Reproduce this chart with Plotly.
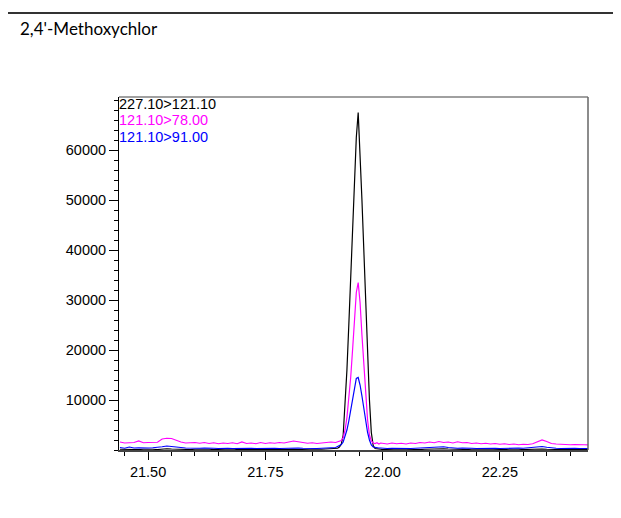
import numpy as np
import plotly.graph_objects as go

# retention time grid (min): baseline before peak, peak region, baseline after
t_pre = np.round(21.44 + 0.01 * np.arange(46), 3)
t_peak = np.round(21.900 + 0.004 * np.arange(25), 3)
t_post = np.round(22.00 + 0.01 * np.arange(45), 3)

# 227.10>121.10 (black)
black_pre = [150, 100, 200, 150, 100, 150, 200, 150, 100, 200, 250, 200, 150, 100, 150, 100,
             150, 200, 100, 150, 100, 150, 100, 150, 200, 100, 150, 100, 150, 100, 150, 200,
             100, 150, 100, 150, 200, 150, 100, 150, 100, 150, 200, 150, 200, 250]
black_peak = [250, 350, 600, 1200, 3000, 8500, 16000, 25000, 34000, 43500, 53000, 62500, 67500,
              60000, 50000, 40000, 29500, 19500, 10000, 3500, 900, 300, 200, 150, 150]
black_post = [100, 150, 100, 150, 200, 150, 100, 150, 100, 150, 200, 250, 300, 250, 200, 150,
              100, 150, 100, 150, 100, 150, 200, 150, 100, 150, 100, 150, 200, 150, 100, 150,
              200, 250, 200, 150, 100, 150, 100, 150, 100, 150, 100, 150, 100]

# 121.10>78.00 (magenta)
mag_pre = [1600, 1400, 1450, 1500, 1800, 1450, 1500, 1450, 1550, 2200, 2350, 2300, 1900, 1600,
           1400, 1450, 1500, 1350, 1500, 1300, 1450, 1250, 1400, 1300, 1450, 1250, 1600, 1300,
           1400, 1250, 1500, 1300, 1450, 1350, 1500, 1400, 1650, 1800, 1650, 1500, 1350, 1450,
           1300, 1400, 1500, 1600]
mag_peak = [1500, 1600, 1700, 1900, 2500, 4000, 6500, 10000, 14500, 20000, 26000, 31500, 33500,
            29500, 23000, 16500, 10500, 6000, 3000, 1800, 1400, 1300, 1450, 1200, 1400]
mag_post = [1300, 1200, 1400, 1250, 1350, 1200, 1400, 1300, 1500, 1400, 1600, 1450, 1700, 1500,
            1600, 1400, 1650, 1450, 1500, 1300, 1400, 1250, 1350, 1200, 1300, 1150, 1250, 1100,
            1200, 1050, 1150, 1100, 1250, 1600, 2000, 1700, 1300, 1200, 1100, 1150, 1050, 1100,
            1000, 1050, 1000]

# 121.10>91.00 (blue)
blue_pre = [500, 350, 600, 400, 450, 350, 400, 450, 500, 650, 800, 750, 600, 500, 400, 350,
            400, 350, 400, 300, 350, 300, 400, 350, 300, 350, 400, 300, 350, 300, 350, 300,
            400, 350, 300, 350, 400, 450, 400, 350, 300, 350, 300, 350, 400, 500]
blue_peak = [500, 700, 900, 1100, 1600, 2600, 4000, 5800, 7800, 10000, 12500, 14300, 14500,
             13000, 10800, 8000, 5500, 3500, 2000, 1000, 600, 500, 450, 400, 400]
blue_post = [350, 300, 350, 300, 400, 350, 300, 350, 400, 450, 500, 600, 700, 650, 500, 400,
             350, 400, 300, 350, 300, 350, 300, 400, 350, 300, 350, 300, 350, 400, 350, 450,
             500, 650, 700, 550, 400, 350, 300, 350, 300, 350, 300, 350, 300]

labels = ["227.10>121.10", "121.10>78.00", "121.10>91.00"]
colors = ["#000000", "#ff00ff", "#0000ff"]
x_ticks = [21.50, 21.75, 22.00, 22.25]
y_ticks = [10000, 20000, 30000, 40000, 50000, 60000]

t = np.concatenate([t_pre, t_peak, t_post])
series = [black_pre + black_peak + black_post,
          mag_pre + mag_peak + mag_post,
          blue_pre + blue_peak + blue_post]

fig = go.Figure()
for name, ys, c in zip(labels, series, colors):
    fig.add_trace(go.Scatter(x=t, y=ys, mode="lines", name=name,
                             line=dict(color=c, width=1.2), hoverinfo="skip"))

# the three transition labels in the top-left corner
for i, (name, c) in enumerate(zip(labels, colors)):
    fig.add_annotation(x=0, y=0.980 - i * 0.0465, xref="paper", yref="paper",
                       xanchor="left", yanchor="middle", showarrow=False,
                       text=name, font=dict(color=c, size=14.5, family="Liberation Sans"),
                       borderpad=0, xshift=-1)

fig.add_annotation(x=-0.2154, y=1.195, xref="paper", yref="paper",
                   xanchor="left", yanchor="middle", showarrow=False,
                   text="2,4'-Methoxychlor", font=dict(color="#000", size=17, family="Lato"))

# header rule at top of the page, plus top/right frame
fig.add_shape(type="line", xref="paper", yref="paper", x0=-0.2367, x1=1.0874,
              y0=1.238, y1=1.238, line=dict(color="#333", width=2))
fig.add_shape(type="line", xref="paper", yref="paper", x0=0, x1=1, y0=1, y1=1,
              line=dict(color="#808080", width=1.5))
fig.add_shape(type="line", xref="paper", yref="paper", x0=1, x1=1, y0=0, y1=1,
              line=dict(color="#666", width=1.5))

tick_font = dict(family="Liberation Sans", size=14.5, color="#000")
fig.update_xaxes(range=[21.438, 22.438], showline=True, linecolor="#444", linewidth=1.5,
                 showgrid=False, zeroline=False, ticks="outside", ticklen=8, tickcolor="#000",
                 tickvals=x_ticks, ticktext=[f"{v:.2f}" for v in x_ticks], tickfont=tick_font,
                 minor=dict(tickmode="linear", tick0=21.5, dtick=0.05, ticks="outside",
                            ticklen=4, tickcolor="#000", showgrid=False))
fig.update_yaxes(range=[0, 70600], showline=True, linecolor="#000", linewidth=1,
                 showgrid=False, zeroline=False, ticks="outside", ticklen=9, tickcolor="#000",
                 tickvals=y_ticks, ticktext=[str(v) for v in y_ticks], tickfont=tick_font,
                 minor=dict(tickmode="linear", tick0=0, dtick=2000, ticks="outside",
                            ticklen=4, tickcolor="#000", showgrid=False))

fig.update_layout(width=621, height=518, autosize=False, showlegend=False,
                  margin=dict(l=111, r=41, t=89, b=76),
                  paper_bgcolor="white", plot_bgcolor="white")

fig.write_html("out.html")
